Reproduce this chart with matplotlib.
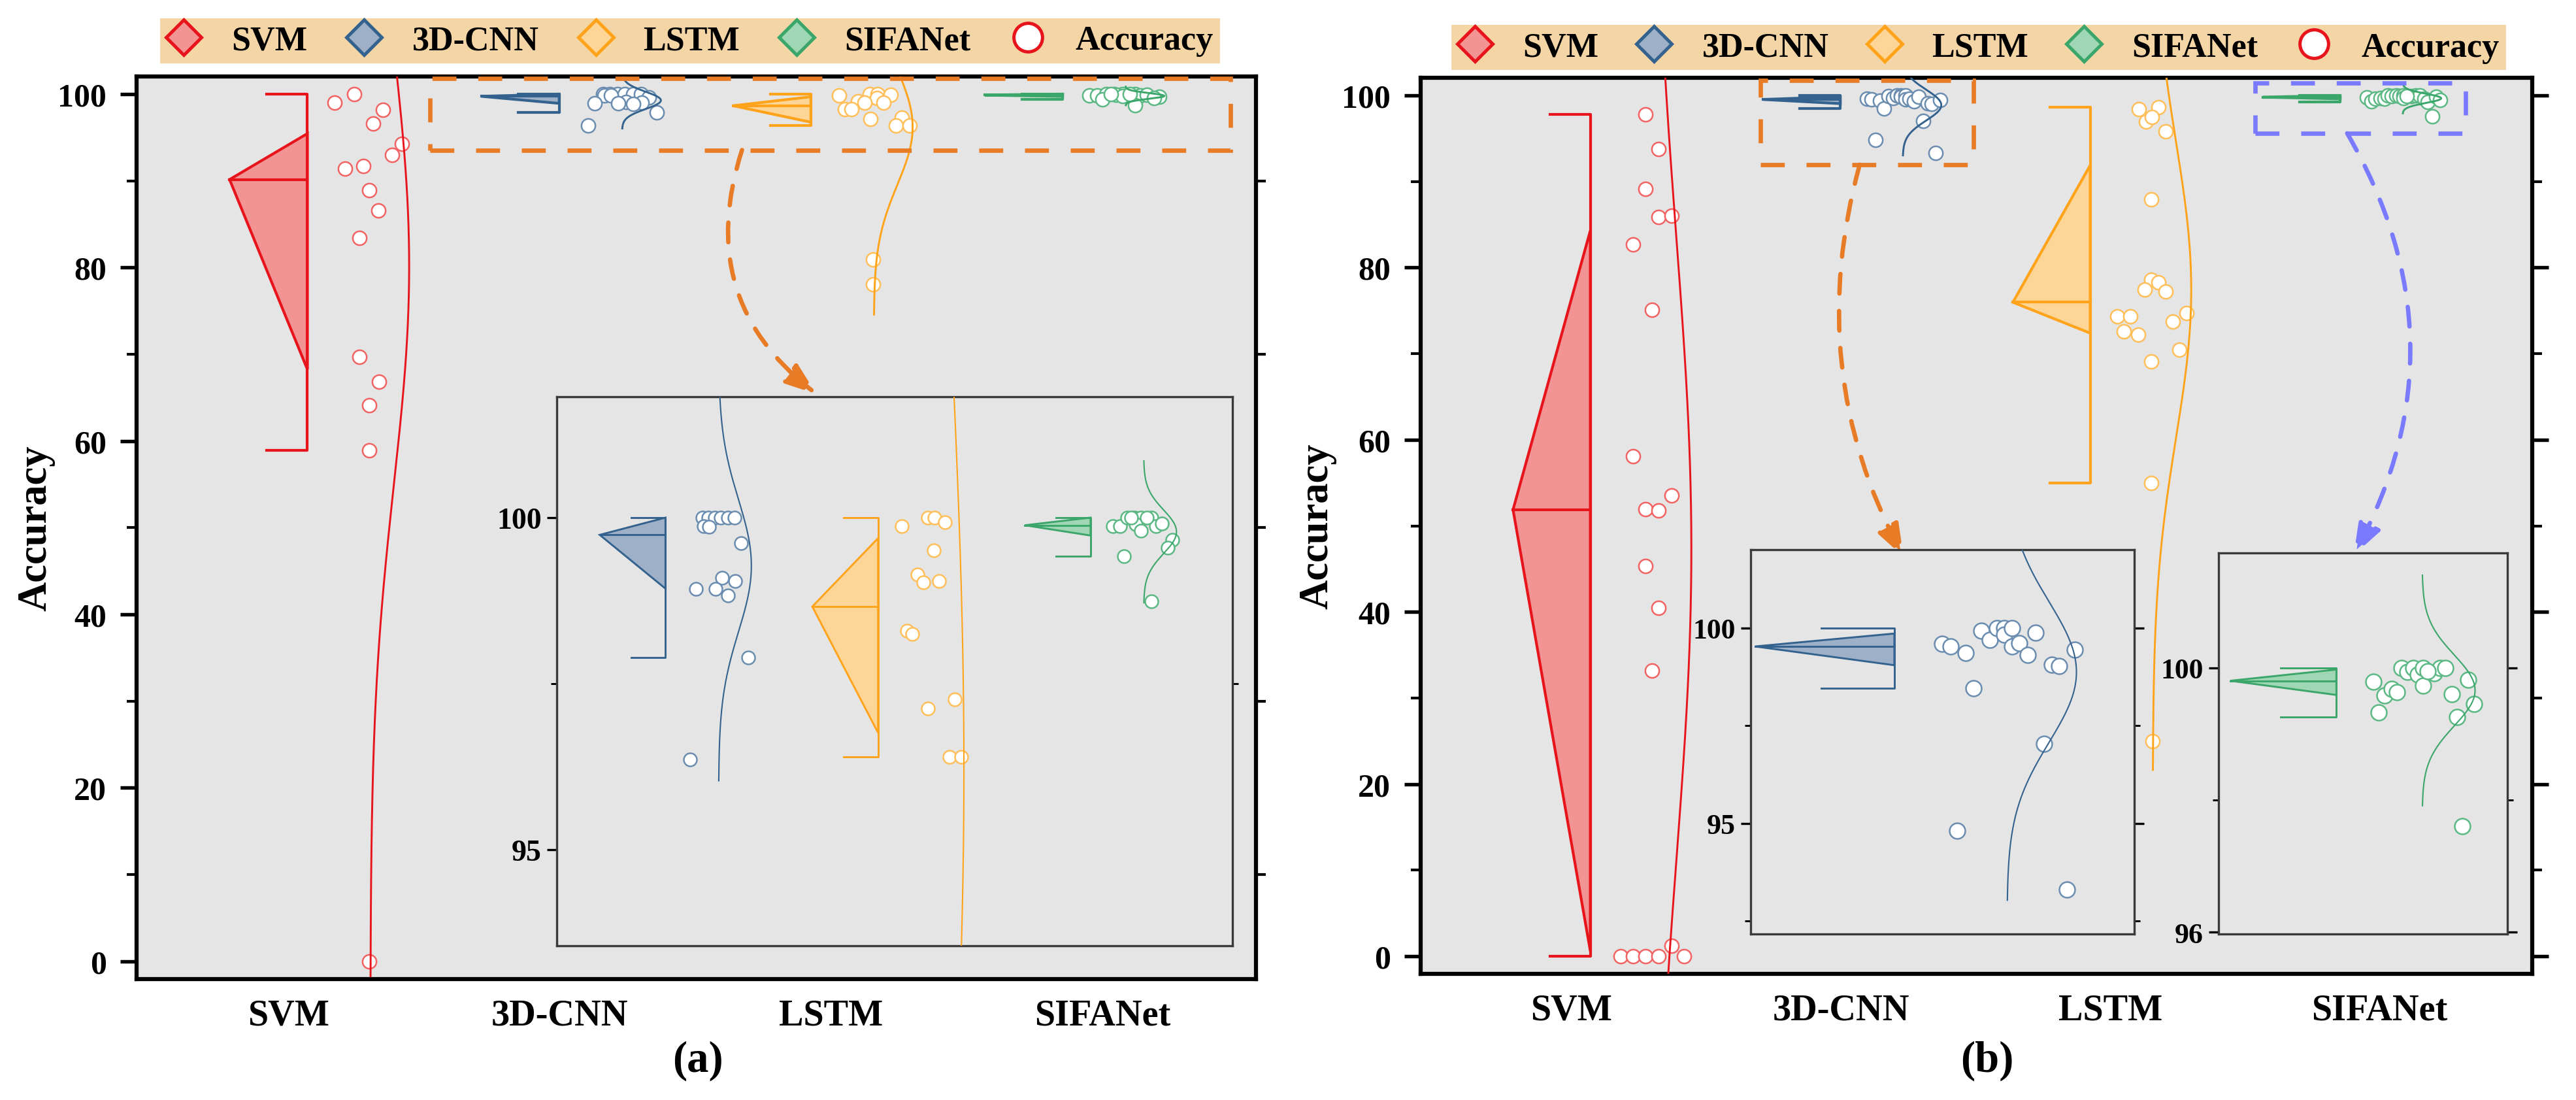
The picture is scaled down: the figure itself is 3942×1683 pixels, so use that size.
import numpy as np
import matplotlib
matplotlib.use("Agg")
import matplotlib.pyplot as plt
from matplotlib.lines import Line2D
from matplotlib.patches import Polygon, Rectangle
from matplotlib.ticker import MultipleLocator

plt.rcParams["font.family"] = ["Liberation Serif", "DejaVu Serif"]
plt.rcParams["font.weight"] = "bold"
plt.rcParams["axes.labelweight"] = "bold"

models = ["SVM", "3D-CNN", "LSTM", "SIFANet"]

# accuracy of each run, panel (a)
svm_a = [99.05, 100.0, 98.2, 96.6, 94.3, 93.0, 91.4, 91.7, 88.9, 86.6, 83.4, 69.7, 66.8, 64.1, 58.9, 0.0]
cnn_a = [100, 100, 100, 100, 100, 100, 99.87, 99.86, 99.62, 99.09, 99.04, 98.93, 98.93, 98.83, 97.89, 96.36]
lstm_a = [99.87, 100, 100, 99.93, 99.51, 99.14, 99.02, 99.04, 98.30, 98.25, 97.26, 97.12, 96.40, 96.40, 80.9, 78.1]
sifa_a = [99.87, 99.87, 100, 100, 100, 100, 99.9, 99.8, 99.87, 99.91, 99.66, 99.55, 99.42, 98.74, 100, 100]

# accuracy of each run, panel (b)
svm_b = [97.8, 93.75, 89.15, 85.9, 86.0, 82.7, 75.1, 58.1, 53.56, 51.95, 51.8, 45.35, 40.45, 33.16, 1.2,
         0, 0, 0, 0, 0]
cnn_b = [99.60, 99.53, 99.36, 98.45, 99.92, 99.69, 100, 100, 99.83, 100, 99.52, 99.61, 99.31, 99.88, 99.06,
         99.03, 99.45, 97.04, 94.81, 93.31]
lstm_b = [98.41, 98.65, 96.98, 95.82, 87.96, 78.58, 78.31, 77.42, 77.23, 74.32, 74.32, 74.71, 73.7, 72.57,
          72.19, 70.45, 69.09, 54.95, 25.0, 97.5]
sifa_b = [99.79, 99.33, 99.58, 99.68, 99.63, 100, 99.94, 100, 99.9, 100, 99.73, 99.92, 100, 100, 99.6,
          99.26, 99.82, 99.45, 97.6, 99.95]

# horizontal scatter of the points (category units, right of the box)
svm_a_dx = [0.10, 0.173, 0.279, 0.243, 0.349, 0.313, 0.138, 0.207, 0.227, 0.261, 0.191, 0.191, 0.263, 0.227, 0.227, 0.227]
cnn_a_dx = [0.162, 0.186, 0.216, 0.242, 0.272, 0.302, 0.166, 0.19, 0.33, 0.246, 0.304, 0.132, 0.218, 0.274, 0.36, 0.106]
lstm_a_dx = [0.103, 0.217, 0.247, 0.293, 0.243, 0.173, 0.198, 0.267, 0.126, 0.149, 0.336, 0.219, 0.313, 0.363, 0.228, 0.228]
sifa_a_dx = [0.098, 0.128, 0.161, 0.191, 0.221, 0.267, 0.198, 0.221, 0.287, 0.311, 0.357, 0.336, 0.147, 0.267, 0.177, 0.247]
svm_b_dx = [0.205, 0.254, 0.205, 0.254, 0.301, 0.158, 0.228, 0.158, 0.301, 0.205, 0.254, 0.205, 0.254, 0.228, 0.301,
            0.112, 0.158, 0.205, 0.254, 0.347]
cnn_b_dx = [0.099, 0.116, 0.147, 0.163, 0.179, 0.196, 0.211, 0.226, 0.226, 0.242, 0.242, 0.257, 0.275, 0.291, 0.324,
            0.339, 0.372, 0.308, 0.130, 0.355]
lstm_b_dx = [0.181, 0.254, 0.206, 0.279, 0.227, 0.227, 0.254, 0.202, 0.279, 0.1, 0.150, 0.358, 0.306, 0.125, 0.177,
             0.331, 0.227, 0.227, 0.231, 0.23]
sifa_b_dx = [0.1, 0.115, 0.131, 0.149, 0.164, 0.177, 0.192, 0.208, 0.22, 0.235, 0.235, 0.264, 0.28, 0.295, 0.312,
             0.326, 0.357, 0.372, 0.341, 0.246]

edge = ["#E8141B", "#34628F", "#FFA31A", "#3BA66A"]
fill = ["#F29494", "#9DB0C8", "#FDD597", "#9FD6B3"]
pt_edge = ["#F26464", "#6A8DB0", "#FFBF5A", "#5CB884"]
bg = "#E5E5E5"
anchors = 1.07 + 0.928 * np.arange(4)


def draw_group(ax, k, vals, dx, lw_box=1.0, lw_curve=0.7, s=26, lw_pt=0.6):
    x0 = anchors[k]
    v = np.asarray(vals, float)
    q1, med, q3 = np.percentile(v, [25, 50, 75], method="hazen")
    iqr = q3 - q1
    lo = v[v >= q1 - 1.5 * iqr].min()
    hi = v[v <= q3 + 1.5 * iqr].max()
    ax.add_patch(Polygon([[x0, q3], [x0 - 0.287, med], [x0, q1]], closed=True,
                         fc=fill[k], ec=edge[k], lw=lw_box, zorder=3))
    ax.plot([x0 - 0.287, x0], [med, med], color=edge[k], lw=lw_box, zorder=3)
    ax.plot([x0 - 0.15, x0, x0, x0 - 0.15], [hi, hi, lo, lo], color=edge[k], lw=lw_box, zorder=3)
    ax.scatter(x0 + np.asarray(dx), v, s=s, facecolor="white", edgecolor=pt_edge[k],
               linewidths=lw_pt, zorder=4)
    m, sd = v.mean(), v.std(ddof=1)
    yy = np.linspace(m - 3.25 * sd, m + 3.25 * sd, 300)
    xx = x0 + 0.232 + 0.143 * np.exp(-0.5 * ((yy - m) / sd) ** 2)
    ax.plot(xx, yy, color=edge[k], lw=lw_curve, zorder=5)


def style_main(ax, right_major):
    ax.set_facecolor(bg)
    ax.set_xlim(0.44, 4.567)
    ax.set_ylim(-2.04, 102.04)
    ax.set_xticks([1, 2, 3, 4])
    ax.set_xticklabels(models, fontsize=13.5, fontweight="bold")
    ax.tick_params(axis="x", length=0, pad=7)
    ax.yaxis.set_major_locator(MultipleLocator(20))
    ax.yaxis.set_minor_locator(MultipleLocator(10))
    ax.tick_params(axis="y", which="major", direction="out", length=6, width=1.3, labelsize=12, pad=5)
    ax.tick_params(axis="y", which="minor", direction="out", length=3.5, width=1.0, right=True)
    ax.tick_params(axis="y", which="major", right=right_major)
    for sp in ax.spines.values():
        sp.set_linewidth(1.5)
        sp.set_color("black")


def style_inset(ax, xlim, ylim, major, minor, right_major, size):
    ax.set_facecolor(bg)
    ax.set_xlim(*xlim)
    ax.set_ylim(*ylim)
    ax.set_xticks([])
    ax.yaxis.set_major_locator(MultipleLocator(major))
    ax.yaxis.set_minor_locator(MultipleLocator(minor))
    ax.tick_params(axis="y", which="major", direction="out", length=3.5, width=0.8, labelsize=size, pad=2)
    ax.tick_params(axis="y", which="minor", direction="out", length=2.2, width=0.7, right=True)
    ax.tick_params(axis="y", which="major", right=right_major)
    for sp in ax.spines.values():
        sp.set_linewidth(0.8)
        sp.set_color("#3a3a3a")


def add_legend(ax, x0, y0, w):
    handles = [Line2D([], [], ls="none", marker="D", ms=9, mfc=fill[k], mec=edge[k], mew=1.2)
               for k in range(4)]
    handles.append(Line2D([], [], ls="none", marker="o", ms=10.5, mfc="white", mec="#E8141B", mew=1.2))
    leg = ax.legend(handles, models + ["Accuracy"], ncol=5, loc="lower left",
                    bbox_to_anchor=(x0, y0, w, 0.05), mode="expand", borderaxespad=0,
                    prop={"size": 12.5, "weight": "bold"}, handlelength=1.0, handletextpad=0.9,
                    borderpad=0.2, frameon=True, fancybox=False)
    leg.get_frame().set_facecolor("#F4D5A6")
    leg.get_frame().set_edgecolor("none")
    leg.get_frame().set_alpha(1)


def arrow(ax, start, end, color, rad):
    ax.annotate("", xy=end, xytext=start,
                arrowprops=dict(arrowstyle="-|>,head_length=0.5,head_width=0.18",
                                connectionstyle=f"arc3,rad={rad}", color=color, lw=1.6,
                                linestyle=(0, (4.5, 4)), mutation_scale=20,
                                shrinkA=0, shrinkB=0), zorder=7)


orange = "#E87B26"
violet = "#7A7AFF"
data_a = [(svm_a, svm_a_dx), (cnn_a, cnn_a_dx), (lstm_a, lstm_a_dx), (sifa_a, sifa_a_dx)]
data_b = [(svm_b, svm_b_dx), (cnn_b, cnn_b_dx), (lstm_b, lstm_b_dx), (sifa_b, sifa_b_dx)]

fig = plt.figure(figsize=(13.14, 5.6133), dpi=300)

# ---------- panel (a) ----------
ax_a = fig.add_axes([0.0530, 0.1099, 0.4346, 0.8201])
style_main(ax_a, right_major=False)
for k, (vals, dx) in enumerate(data_a):
    draw_group(ax_a, k, vals, dx)
ax_a.set_ylabel("Accuracy", fontsize=15, fontweight="bold", labelpad=1)
ax_a.add_patch(Rectangle((1.523, 93.55), 4.473 - 1.523, 101.8 - 93.55, fill=False, ec=orange,
                         lw=1.6, ls=(0, (5.5, 5)), zorder=6))
arrow(ax_a, (2.672, 93.55), (2.947, 65.4), orange, 0.35)
add_legend(ax_a, 0.021, 1.0145, 0.947)

in_a = fig.add_axes([0.2161, 0.1401, 0.2623, 0.4988])
style_inset(in_a, (1.523, 4.473), (93.55, 101.82), 5, 2.5, False, 11)
for k, (vals, dx) in enumerate(data_a):
    draw_group(in_a, k, vals, dx, lw_box=0.7, lw_curve=0.5, s=23, lw_pt=0.6)

# ---------- panel (b) ----------
ax_b = fig.add_axes([0.5515, 0.1146, 0.4315, 0.8141])
style_main(ax_b, right_major=True)
for k, (vals, dx) in enumerate(data_b):
    draw_group(ax_b, k, vals, dx)
ax_b.set_ylabel("Accuracy", fontsize=15, fontweight="bold", labelpad=2)
ax_b.add_patch(Rectangle((1.702, 91.95), 2.492 - 1.702, 101.75 - 91.95, fill=False, ec=orange,
                         lw=1.6, ls=(0, (5.5, 5)), zorder=6))
ax_b.add_patch(Rectangle((3.539, 95.6), 4.32 - 3.539, 101.45 - 95.6, fill=False, ec=violet,
                         lw=1.6, ls=(0, (5.5, 5)), zorder=6))
arrow(ax_b, (2.07, 91.95), (2.233, 46.4), orange, 0.2)
arrow(ax_b, (3.88, 95.6), (3.904, 46.6), violet, -0.28)
add_legend(ax_b, 0.0276, 1.0088, 0.949)

in_b1 = fig.add_axes([0.6796, 0.1508, 0.1489, 0.3492])
style_inset(in_b1, (1.702, 2.492), (92.17, 102.0), 5, 2.5, True, 10.5)
for k, (vals, dx) in enumerate(data_b):
    draw_group(in_b1, k, vals, dx, lw_box=0.7, lw_curve=0.5, s=33, lw_pt=0.6)

in_b2 = fig.add_axes([0.8612, 0.1508, 0.1121, 0.3462])
style_inset(in_b2, (3.535, 4.316), (95.97, 101.74), 4, 2, True, 10.5)
for k, (vals, dx) in enumerate(data_b):
    draw_group(in_b2, k, vals, dx, lw_box=0.7, lw_curve=0.5, s=33, lw_pt=0.6)

fig.text(0.2709, 0.036, "(a)", ha="center", va="center", fontsize=16, fontweight="bold")
fig.text(0.7715, 0.036, "(b)", ha="center", va="center", fontsize=16, fontweight="bold")

fig.savefig("out.png", dpi=300, facecolor="white")
